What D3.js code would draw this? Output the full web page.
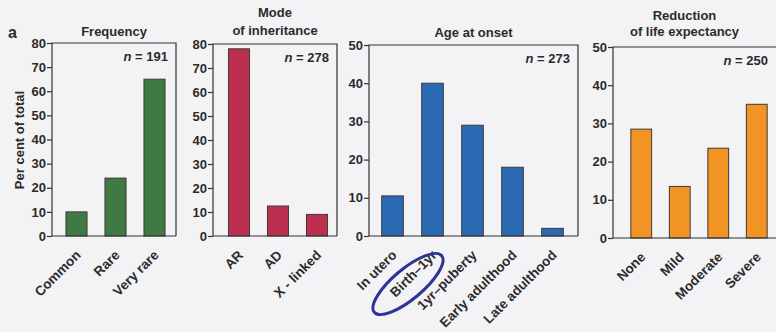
<!DOCTYPE html>
<html>
<head>
<meta charset="utf-8">
<script src="https://cdn.jsdelivr.net/npm/d3@7"></script>
<style>
    body { margin: 0; background: #f3f3f5; }
    svg { display: block; }
    text { font-family: 'Liberation Sans', Arial, sans-serif; font-weight: bold; font-size: 13px; fill: #2b2b2b; }
    .xl { font-size: 13.5px; }
    .axis path { display: none; }
    .axis line { stroke: #333; stroke-width: 1.2; }
</style>
</head>
<body>
<svg id="chart" width="776" height="332"></svg>
<script>
// data begin ----------------------------------
const frequencyCats = ['Common', 'Rare', 'Very rare'];
const frequencyVals = [10, 24, 65];
const inheritanceCats = ['AR', 'AD', 'X - linked'];
const inheritanceVals = [78, 12.5, 9];
const onsetCats = ['In utero', 'Birth\u20131yr', '1yr\u2013puberty', 'Early adulthood', 'Late adulthood'];
const onsetVals = [10.5, 40, 29, 18, 2];
const lifeCats = ['None', 'Mild', 'Moderate', 'Severe'];
const lifeVals = [28.5, 13.5, 23.5, 35];
const yTicks80 = [0, 10, 20, 30, 40, 50, 60, 70, 80];
const yTicks50 = [0, 10, 20, 30, 40, 50];
// data end ------------------------------------

const svg = d3.select('#chart');

const panels = [
    { title: ['Frequency'], titleY: [36], n: '191', cats: frequencyCats, vals: frequencyVals, ticks: yTicks80, color: '#3f7a42',
      left: 52, right: 176, top: 43, bottom: 236, bandStart: 57, step: 39 },
    { title: ['Mode', 'of inheritance'], titleY: [17, 35], n: '278', cats: inheritanceCats, vals: inheritanceVals, ticks: yTicks80, color: '#bd2f4f',
      left: 213, right: 337, top: 44, bottom: 236, bandStart: 219.5, step: 39 },
    { title: ['Age at onset'], titleY: [37], n: '273', cats: onsetCats, vals: onsetVals, ticks: yTicks50, color: '#2a6bb3',
      left: 369, right: 578, top: 45, bottom: 236, bandStart: 372.5, step: 40 },
    { title: ['Reduction', 'of life expectancy'], titleY: [20, 36], n: '250', cats: lifeCats, vals: lifeVals, ticks: yTicks50, color: '#f29424',
      left: 613, right: 800, top: 47, bottom: 238, bandStart: 622, step: 38.5 }
];

panels.forEach(function(p) {
    const g = svg.append('g');
    const x = d3.scaleBand().domain(p.cats)
        .range([p.bandStart, p.bandStart + p.cats.length * p.step])
        .paddingInner(0.46).paddingOuter(0.23);
    const y = d3.scaleLinear().domain([0, d3.max(p.ticks)]).range([p.bottom, p.top]);

    // bars
    g.selectAll('rect.bar').data(p.vals).enter().append('rect')
        .attr('class', 'bar')
        .attr('x', function(d, i) { return x(p.cats[i]); })
        .attr('y', function(d) { return y(d); })
        .attr('width', x.bandwidth())
        .attr('height', function(d) { return y(0) - y(d); })
        .attr('fill', p.color)
        .attr('stroke', '#3a3a3a')
        .attr('stroke-width', 1);

    // frame (left axis, top, right, bottom)
    g.append('path')
        .attr('d', 'M' + p.right + ',' + p.bottom + 'H' + p.left + 'V' + p.top + 'H' + p.right + 'V' + p.bottom)
        .attr('fill', 'none').attr('stroke', '#333').attr('stroke-width', 1.2);

    g.append('g').attr('class', 'axis')
        .attr('transform', 'translate(' + p.left + ',0)')
        .call(d3.axisLeft(y).tickValues(p.ticks).tickSize(5).tickPadding(1));

    // x labels, rotated
    g.selectAll('text.xl').data(p.cats).enter().append('text')
        .attr('class', 'xl')
        .attr('text-anchor', 'end')
        .attr('transform', function(d) {
            return 'translate(' + (x(d) + x.bandwidth() / 2 + 5) + ',' + (p.bottom + 20) + ') rotate(-45)';
        })
        .text(function(d) { return d; });

    // title
    const cx = (p.left + Math.min(p.right, 776)) / 2 + (p.right > 776 ? -10 : 0);
    p.title.forEach(function(t, i) {
        g.append('text').attr('text-anchor', 'middle')
            .attr('x', cx).attr('y', p.titleY[i])
            .text(t);
    });

    // n label
    const nt = g.append('text').attr('text-anchor', 'end')
        .attr('x', Math.min(p.right, 776) - 8).attr('y', p.top + 18);
    nt.append('tspan').style('font-style', 'italic').text('n');
    nt.append('tspan').text(' = ' + p.n);
});

// panel letter and y label
svg.append('text').attr('x', 8).attr('y', 38).style('font-size', '16px').text('a');
svg.append('text').attr('text-anchor', 'middle')
    .attr('transform', 'translate(24,140) rotate(-90)')
    .text('Per cent of total');

// hand-drawn annotation round "Birth-1yr"
svg.append('ellipse')
    .attr('transform', 'translate(408,284) rotate(-40)')
    .attr('rx', 44).attr('ry', 15)
    .attr('fill', 'none').attr('stroke', '#2c3593').attr('stroke-width', 3);
</script>
</body>
</html>
